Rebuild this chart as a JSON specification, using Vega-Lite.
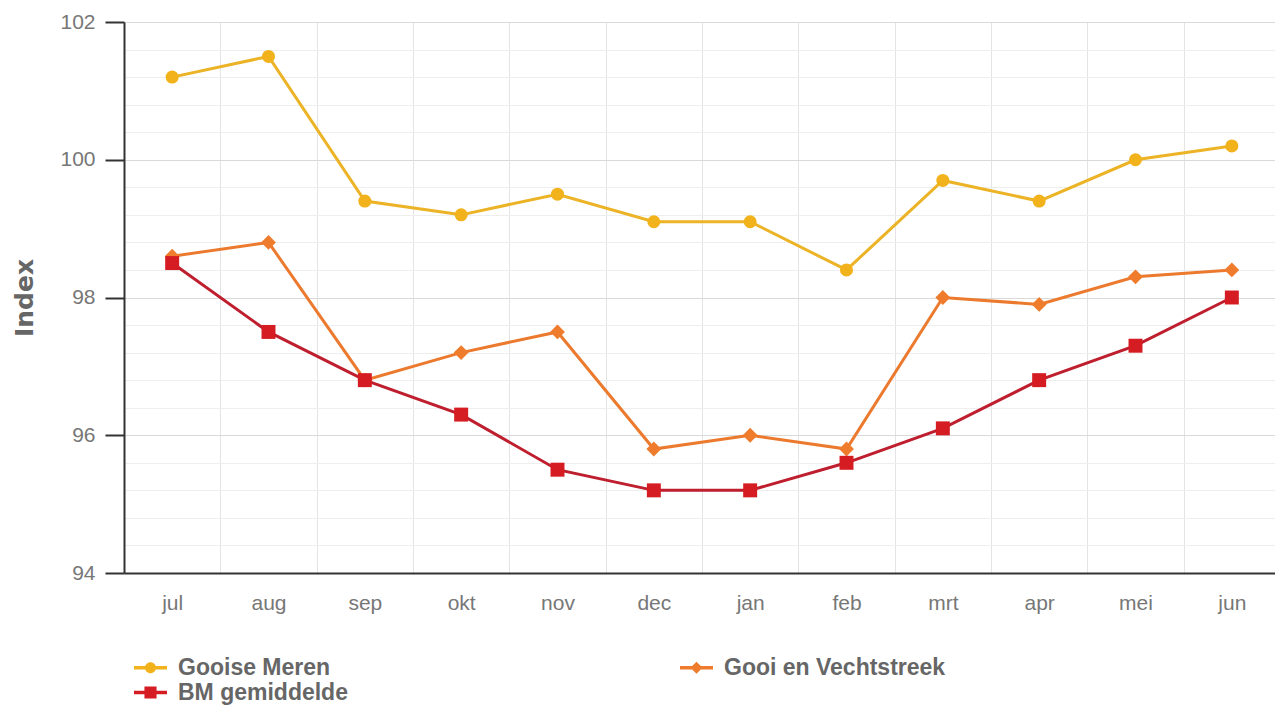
{
  "$schema": "https://vega.github.io/schema/vega-lite/v6.json",
  "width": 1150,
  "height": 551,
  "autosize": {"type": "none"},
  "padding": {"left": 124, "top": 22, "right": 1, "bottom": 134},
  "background": "white",
  "config": {"view": {"stroke": null}, "font": "Liberation Sans"},
  "data": {
    "values": [
      {"month": "jul", "series": "Gooise Meren", "value": 101.2},
      {"month": "aug", "series": "Gooise Meren", "value": 101.5},
      {"month": "sep", "series": "Gooise Meren", "value": 99.4},
      {"month": "okt", "series": "Gooise Meren", "value": 99.2},
      {"month": "nov", "series": "Gooise Meren", "value": 99.5},
      {"month": "dec", "series": "Gooise Meren", "value": 99.1},
      {"month": "jan", "series": "Gooise Meren", "value": 99.1},
      {"month": "feb", "series": "Gooise Meren", "value": 98.4},
      {"month": "mrt", "series": "Gooise Meren", "value": 99.7},
      {"month": "apr", "series": "Gooise Meren", "value": 99.4},
      {"month": "mei", "series": "Gooise Meren", "value": 100.0},
      {"month": "jun", "series": "Gooise Meren", "value": 100.2},
      {"month": "jul", "series": "Gooi en Vechtstreek", "value": 98.6},
      {"month": "aug", "series": "Gooi en Vechtstreek", "value": 98.8},
      {"month": "sep", "series": "Gooi en Vechtstreek", "value": 96.8},
      {"month": "okt", "series": "Gooi en Vechtstreek", "value": 97.2},
      {"month": "nov", "series": "Gooi en Vechtstreek", "value": 97.5},
      {"month": "dec", "series": "Gooi en Vechtstreek", "value": 95.8},
      {"month": "jan", "series": "Gooi en Vechtstreek", "value": 96.0},
      {"month": "feb", "series": "Gooi en Vechtstreek", "value": 95.8},
      {"month": "mrt", "series": "Gooi en Vechtstreek", "value": 98.0},
      {"month": "apr", "series": "Gooi en Vechtstreek", "value": 97.9},
      {"month": "mei", "series": "Gooi en Vechtstreek", "value": 98.3},
      {"month": "jun", "series": "Gooi en Vechtstreek", "value": 98.4},
      {"month": "jul", "series": "BM gemiddelde", "value": 98.5},
      {"month": "aug", "series": "BM gemiddelde", "value": 97.5},
      {"month": "sep", "series": "BM gemiddelde", "value": 96.8},
      {"month": "okt", "series": "BM gemiddelde", "value": 96.3},
      {"month": "nov", "series": "BM gemiddelde", "value": 95.5},
      {"month": "dec", "series": "BM gemiddelde", "value": 95.2},
      {"month": "jan", "series": "BM gemiddelde", "value": 95.2},
      {"month": "feb", "series": "BM gemiddelde", "value": 95.6},
      {"month": "mrt", "series": "BM gemiddelde", "value": 96.1},
      {"month": "apr", "series": "BM gemiddelde", "value": 96.8},
      {"month": "mei", "series": "BM gemiddelde", "value": 97.3},
      {"month": "jun", "series": "BM gemiddelde", "value": 98.0}
    ]
  },
  "encoding": {
    "x": {
      "field": "month",
      "type": "nominal",
      "sort": ["jul", "aug", "sep", "okt", "nov", "dec", "jan", "feb", "mrt", "apr", "mei", "jun"],
      "scale": {"type": "band", "paddingInner": 0, "paddingOuter": 0, "range": [0, 1156]},
      "axis": {
        "title": null,
        "tickBand": "extent",
        "ticks": false,
        "tickSize": 0,
        "labelAngle": 0,
        "labelFontSize": 21,
        "labelColor": "#777777",
        "labelPadding": 19,
        "domainColor": "#333333",
        "domainWidth": 2,
        "grid": true,
        "gridColor": "#e4e4e4",
        "gridWidth": 1
      }
    },
    "y": {
      "field": "value",
      "type": "quantitative",
      "scale": {"domain": [94, 102], "nice": false, "zero": false},
      "axis": {
        "title": "Index",
        "titleFont": "DejaVu Sans",
        "titleFontSize": 25,
        "titleFontWeight": "bold",
        "titleColor": "#666666",
        "titlePadding": 22,
        "values": [94, 94.4, 94.8, 95.2, 95.6, 96, 96.4, 96.8, 97.2, 97.6, 98, 98.4, 98.8, 99.2, 99.6, 100, 100.4, 100.8, 101.2, 101.6, 102],
        "labelExpr": "datum.value % 2 === 0 ? format(datum.value, 'd') : ''",
        "labelOverlap": false,
        "labelFontSize": 21,
        "labelColor": "#777777",
        "labelPadding": 10,
        "tickSize": 19,
        "tickWidth": 2,
        "tickColor": "#333333",
        "tickOpacity": {"condition": {"test": "datum.value % 2 === 0", "value": 1}, "value": 0},
        "domainColor": "#333333",
        "domainWidth": 2,
        "grid": true,
        "gridColor": {"condition": {"test": "datum.value % 2 === 0", "value": "#dadada"}, "value": "#eeeeee"},
        "gridWidth": 1
      }
    }
  },
  "layer": [
    {
      "mark": {"type": "line", "strokeWidth": 3},
      "encoding": {
        "color": {
          "field": "series",
          "type": "nominal",
          "scale": {"domain": ["Gooise Meren", "BM gemiddelde", "Gooi en Vechtstreek"], "range": ["#EBB325", "#BE1E2D", "#EC7A2E"]},
          "legend": null
        }
      }
    },
    {
      "mark": {"type": "point", "filled": true, "opacity": 1},
      "encoding": {
        "color": {
          "field": "series",
          "type": "nominal",
          "scale": {"domain": ["Gooise Meren", "BM gemiddelde", "Gooi en Vechtstreek"], "range": ["#F2B21B", "#D41C22", "#EF7B2C"]},
          "legend": null
        },
        "shape": {
          "field": "series",
          "type": "nominal",
          "scale": {"domain": ["Gooise Meren", "BM gemiddelde", "Gooi en Vechtstreek"], "range": ["circle", "square", "diamond"]},
          "legend": null
        },
        "size": {
          "field": "series",
          "type": "ordinal",
          "scale": {"domain": ["Gooise Meren", "BM gemiddelde", "Gooi en Vechtstreek"], "range": [170, 220, 135]},
          "legend": null
        }
      }
    },
    {
      "transform": [{"filter": "false"}],
      "mark": {"type": "point", "filled": true, "opacity": 1},
      "encoding": {
        "color": {
          "field": "series",
          "type": "nominal",
          "scale": {"domain": ["Gooise Meren", "BM gemiddelde", "Gooi en Vechtstreek"], "range": ["#F2B21B", "#D41C22", "#EF7B2C"]},
          "legend": {
            "title": null, "orient": "none", "legendX": 15, "legendY": 634, "columns": 2, "columnPadding": 332, "rowPadding": 1,
            "symbolSize": 484, "symbolStrokeWidth": 0, "labelFont": "Liberation Sans", "labelFontSize": 23, "labelFontWeight": "bold",
            "labelColor": "#666666", "labelOffset": 16, "padding": 0, "labelLimit": 400
          }
        },
        "shape": {
          "field": "series",
          "type": "nominal",
          "scale": {
            "domain": ["Gooise Meren", "BM gemiddelde", "Gooi en Vechtstreek"],
            "range": [
              "M-1.5,-0.16H1.5V0.16H-1.5Z M0.5,0A0.5,0.5 0 1,1 -0.5,0A0.5,0.5 0 1,1 0.5,0Z",
              "M-1.5,-0.16H1.5V0.16H-1.5Z M-0.55,-0.55H0.55V0.55H-0.55Z",
              "M-1.5,-0.16H1.5V0.16H-1.5Z M0,-0.55L0.55,0L0,0.55L-0.55,0Z"
            ]
          },
          "legend": {
            "title": null, "orient": "none", "legendX": 15, "legendY": 634, "columns": 2, "columnPadding": 332, "rowPadding": 1,
            "symbolSize": 484, "symbolStrokeWidth": 0, "labelFont": "Liberation Sans", "labelFontSize": 23, "labelFontWeight": "bold",
            "labelColor": "#666666", "labelOffset": 16, "padding": 0, "labelLimit": 400
          }
        }
      }
    }
  ],
  "resolve": {"scale": {"shape": "independent", "color": "independent", "size": "independent"}}
}
